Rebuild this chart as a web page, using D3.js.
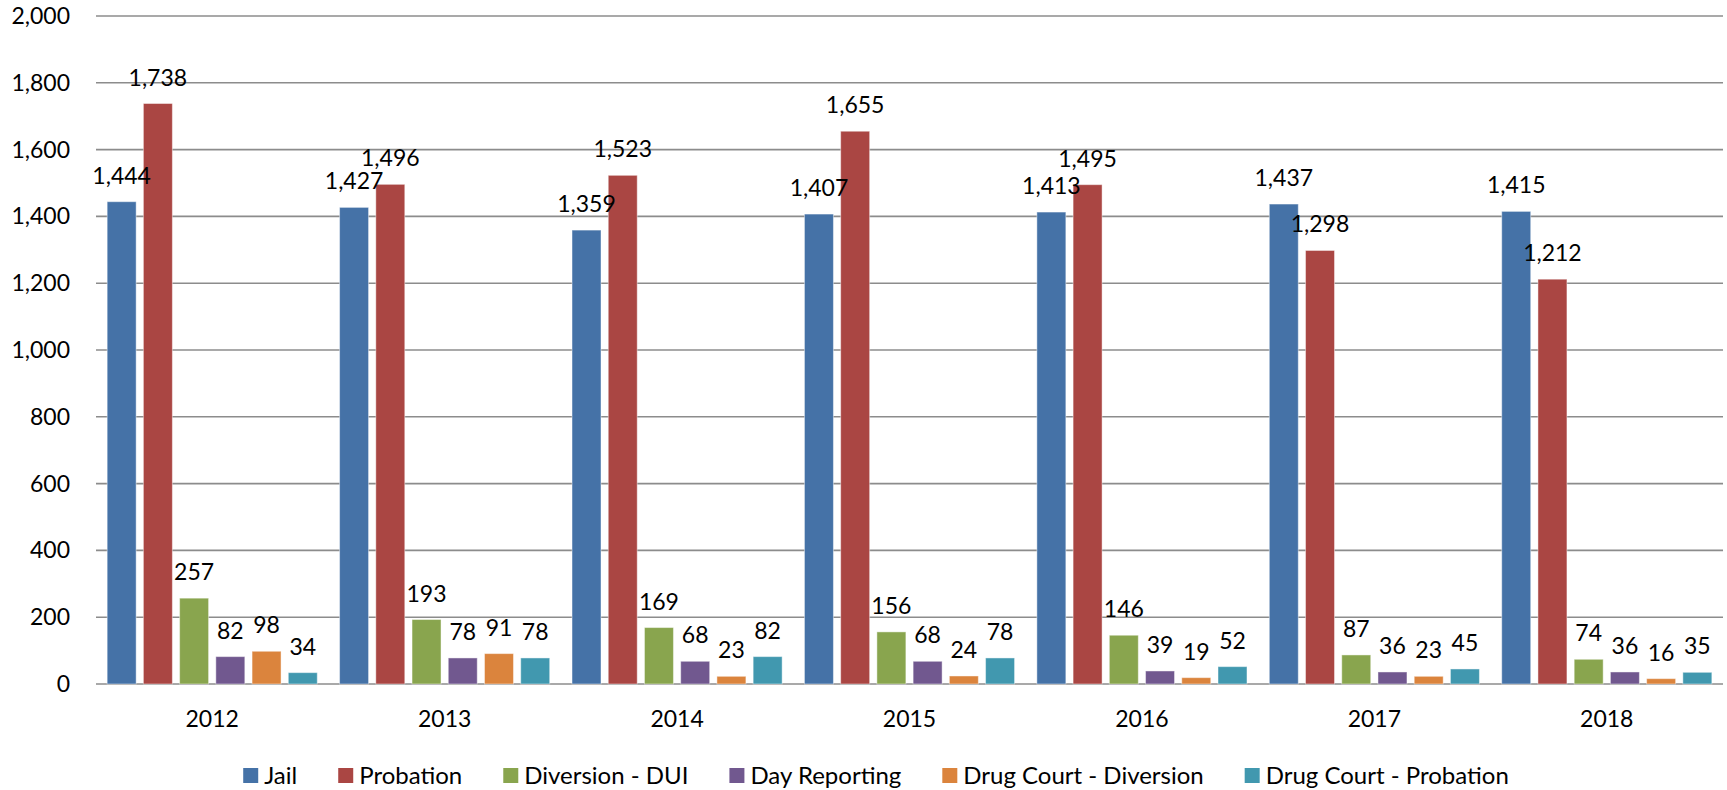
<!DOCTYPE html>
<html>
<head>
<meta charset="utf-8">
<script src="https://cdn.jsdelivr.net/npm/d3@7"></script>
<style>
  body { margin: 0; background: #fff; }
  text { font-family: Lato, "Open Sans", sans-serif; fill: #000; }
</style>
</head>
<body>
<script>
// data ------------------------------------------------------------
const years = ["2012", "2013", "2014", "2015", "2016", "2017", "2018"];
const seriesNames = ["Jail", "Probation", "Diversion - DUI", "Day Reporting", "Drug Court - Diversion", "Drug Court - Probation"];
const jail = [1444, 1427, 1359, 1407, 1413, 1437, 1415];
const probation = [1738, 1496, 1523, 1655, 1495, 1298, 1212];
const diversionDui = [257, 193, 169, 156, 146, 87, 74];
const dayReporting = [82, 78, 68, 68, 39, 36, 36];
const drugCourtDiversion = [98, 91, 23, 24, 19, 23, 16];
const drugCourtProbation = [34, 78, 82, 78, 52, 45, 35];
const yTicks = [0, 200, 400, 600, 800, 1000, 1200, 1400, 1600, 1800, 2000];

const colors = ["#4572A7", "#AA4643", "#89A54E", "#71588F", "#DB843D", "#4198AF"];
const allSeries = [jail, probation, diversionDui, dayReporting, drugCourtDiversion, drugCourtProbation];

const W = 1727, H = 790;
const plotL = 96, plotR = 1723, plotT = 16, plotB = 684;
const fmt = d3.format(",");

const svg = d3.select("body").append("svg")
    .attr("width", W)
    .attr("height", H);

const x0 = d3.scaleBand().domain(years).range([plotL, plotR])
    .paddingInner(0.096).paddingOuter(0.048);
const x1 = d3.scaleBand().domain(d3.range(seriesNames.length)).range([0, x0.bandwidth()])
    .paddingInner(0.2);
const y = d3.scaleLinear().domain([0, 2000]).range([plotB, plotT]);

// gridlines
svg.append("g").selectAll("line")
    .data(yTicks)
    .enter().append("line")
    .attr("x1", plotL).attr("x2", plotR)
    .attr("y1", d => y(d)).attr("y2", d => y(d))
    .attr("stroke", "#8c8c8c").attr("stroke-width", 1.6);

// y labels
svg.append("g").selectAll("text")
    .data(yTicks)
    .enter().append("text")
    .attr("x", 70).attr("y", d => y(d) + 8)
    .attr("text-anchor", "end")
    .style("font-size", "23px")
    .text(d => fmt(d));

// bars
const groups = svg.append("g").selectAll("g")
    .data(years)
    .enter().append("g")
    .attr("transform", d => `translate(${x0(d)},0)`);

groups.each(function (yr, i) {
    const g = d3.select(this);
    const vals = allSeries.map(s => s[i]);
    g.selectAll("rect")
        .data(vals)
        .enter().append("rect")
        .attr("x", (d, j) => x1(j))
        .attr("y", d => y(d))
        .attr("width", x1.bandwidth())
        .attr("height", d => plotB - y(d))
        .attr("fill", (d, j) => colors[j])
        .attr("stroke", "rgba(255,255,255,0.45)")
        .attr("stroke-width", 1);
    g.selectAll("text")
        .data(vals)
        .enter().append("text")
        .attr("x", (d, j) => x1(j) + x1.bandwidth() / 2)
        .attr("y", d => y(d) - 18)
        .attr("text-anchor", "middle")
        .style("font-size", "23px")
        .text(d => fmt(d));
});

// x labels
svg.append("g").selectAll("text")
    .data(years)
    .enter().append("text")
    .attr("x", d => x0(d) + x0.bandwidth() / 2)
    .attr("y", 727)
    .attr("text-anchor", "middle")
    .style("font-size", "23px")
    .text(d => d);

// legend
const legend = svg.append("g");
let lx = 0;
seriesNames.forEach((name, i) => {
    const item = legend.append("g").attr("transform", `translate(${lx},0)`);
    item.append("rect")
        .attr("x", 0).attr("y", 768)
        .attr("width", 15).attr("height", 15)
        .attr("fill", colors[i]);
    const t = item.append("text")
        .attr("x", 21).attr("y", 784)
        .style("font-size", "24px")
        .text(name);
    lx += 21 + t.node().getComputedTextLength() + 41;
});
const legendW = lx - 41;
legend.attr("transform", `translate(${876 - legendW / 2},0)`);
</script>
</body>
</html>
